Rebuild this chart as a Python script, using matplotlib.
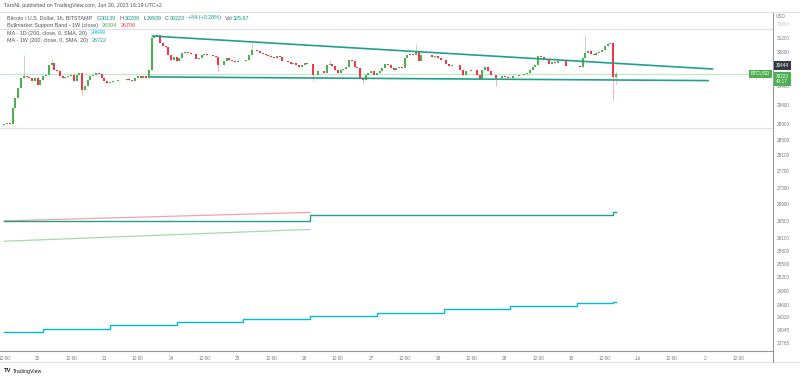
import matplotlib.pyplot as plt
from matplotlib.ticker import FixedLocator, NullLocator
from matplotlib.lines import Line2D

plt.rcParams['font.family'] = ['Liberation Sans', 'DejaVu Sans']

# BTCUSD 1h (BITSTAMP), bars from Jun 21 12:00 to Jun 30 16:00 (UTC+2), x = hours since first bar
first_open = 28880
closes = [
    28906, 28931, 28906, 29318, 29578, 29842, 30109, 30163, 30136, 30109,
    30028, 30109, 29922, 30055, 30163, 30190, 30460, 30514, 30325, 30298,
    30163, 30109, 30136, 30163, 30190, 30028, 30190, 30244, 29789, 29895,
    30055, 30163, 30190, 30244, 30217, 30109, 30028, 29975, 30002, 30028,
    30020, 30055, 30050, 30060, 30082, 30055, 30028, 30109, 30163, 30109,
    30163, 30109, 30325, 31200, 31256, 31284, 31061, 30978, 30960, 30732,
    30596, 30677, 30569, 30650, 30786, 30814, 30786, 30759, 30750, 30623,
    30650, 30732, 30759, 30732, 30740, 30705, 30677, 30460, 30455, 30569,
    30650, 30596, 30569, 30542, 30569, 30560, 30580, 30596, 30732, 30869,
    30875, 30841, 30786, 30759, 30732, 30705, 30677, 30650, 30705, 30677,
    30569, 30580, 30542, 30487, 30514, 30460, 30406, 30460, 30514, 30487,
    30480, 30190, 30180, 30298, 30290, 30244, 30460, 30487, 30433, 30325,
    30244, 30325, 30352, 30406, 30596, 30569, 30406, 30379, 30109, 30055,
    30190, 30244, 30298, 30190, 30244, 30298, 30379, 30487, 30460, 30379,
    30325, 30379, 30406, 30379, 30650, 30732, 30759, 30732, 30814, 30569,
    30732, 30740, 30725, 30732, 30677, 30705, 30650, 30596, 30600, 30487,
    30433, 30460, 30455, 30465, 30325, 30190, 30298, 30290, 30325, 30320,
    30190, 30082, 30325, 30406, 30298, 30190, 30180, 30109, 30100, 30163,
    30136, 30109, 30105, 30163, 30160, 30190, 30185, 30217, 30244, 30325,
    30406, 30460, 30705, 30677, 30623, 30596, 30487, 30542, 30514, 30569,
    30575, 30596, 30433, 30430, 30440, 30433, 30440, 30406, 30650, 30786,
    30841, 30759, 30732, 30786, 30814, 30869, 30978, 31033, 31061, 30139,
    30223,
]
wick_high = {7: 30730, 17: 30600, 54: 31310, 89: 31060, 117: 30600,
             148: 31030, 209: 31280, 219: 31090, 220: 30288}
wick_low = {0: 28850, 28: 29660, 77: 30300, 111: 30030, 129: 29975,
            177: 29895, 219: 29530, 220: 29939}

# drawn trendlines (hour, price)
upper_line = [(53, 31256), (255, 30348)]
lower_line = [(52.4, 30136), (253.5, 30037)]

# indicators
ma1d_hours = [0, 14, 38, 62, 86, 110, 134, 158, 182, 206, 219, 220]
ma1d_vals = [24005, 24075, 24145, 24215, 24285, 24355, 24425, 24495, 24565, 24625, 24649, 24649]
ma1w_hours = [0, 110, 219, 220]
ma1w_vals = [26505, 26646, 26722, 26722]
band_hours = [0, 110]
band_sma = [26505, 26706]
band_ema = [26028, 26304]
range_lines = [31452, 28805]
last_price = 30223
marker_price = 30444

price_ticks = [31600, 31200, 30800, 29900, 29400, 28900, 28500, 28100, 27700, 27300,
               26900, 26500, 26100, 25800, 25500, 25200, 24900, 24600, 24320, 24045, 23765]
time_ticks = list(range(0, 265, 12))
time_labels = ['12:00', '22', '12:00', '23', '12:00', '24', '12:00', '25', '12:00', '26',
               '12:00', '27', '12:00', '28', '12:00', '29', '12:00', '30', '12:00', 'Jul',
               '12:00', '2', '12:00']

UP, DOWN = '#4caf50', '#f23645'
TEAL = '#22a08a'
CYAN = '#00bcd4'
GREY = '#787b86'

fig = plt.figure(figsize=(8, 3.78), dpi=100)
ax = fig.add_axes([0, 27 / 378, 773 / 800, 339 / 378])
ax.set_yscale('log')

hours = list(range(len(closes)))
opens = [first_open] + closes[:-1]
colors = [UP if c >= o else DOWN for o, c in zip(opens, closes)]
bottoms = [min(o, c) for o, c in zip(opens, closes)]
heights = [max(abs(c - o), 7) for o, c in zip(opens, closes)]
highs = [wick_high.get(i, max(o, c)) for i, (o, c) in enumerate(zip(opens, closes))]
lows = [wick_low.get(i, min(o, c)) for i, (o, c) in enumerate(zip(opens, closes))]

for p in range_lines:
    ax.axhline(p, color='#e0e3eb', lw=0.9, zorder=1)
ax.axhline(last_price, color='#c8e6c9', lw=0.9, zorder=1)

ax.vlines(hours, lows, highs, colors=colors, alpha=0.4, lw=0.7, zorder=2)
ax.bar(hours, heights, bottom=bottoms, width=0.72, color=colors, linewidth=0, zorder=3)

for seg in (upper_line, lower_line):
    ax.plot([seg[0][0], seg[1][0]], [seg[0][1], seg[1][1]], color=TEAL, lw=1.2,
            solid_capstyle='butt', zorder=4)

ax.plot(band_hours, band_sma, color='#f5a3a9', lw=0.9, zorder=2)
ax.plot(band_hours, band_ema, color='#a8d8aa', lw=0.9, zorder=2)
ax.step(ma1w_hours, ma1w_vals, where='post', color=TEAL, lw=1.0, zorder=3)
ax.step(ma1d_hours, ma1d_vals, where='post', color=CYAN, lw=1.0, zorder=3)

ax.set_xlim(-1.55, 276.5)
ax.set_ylim(23601, 31932)

ax.yaxis.tick_right()
ax.yaxis.set_major_locator(FixedLocator(price_ticks))
ax.yaxis.set_minor_locator(NullLocator())
ax.set_yticklabels([str(p) for p in price_ticks])
ax.tick_params(axis='y', length=0, pad=3, labelsize=3.4, labelcolor=GREY)
ax.get_yticklabels()[0].set_color('#c3c6ce')
ax.set_xticks(time_ticks)
ax.set_xticklabels(time_labels)
ax.tick_params(axis='x', length=0, pad=3.5, labelsize=3.4, labelcolor=GREY)

for s in ('top', 'left'):
    ax.spines[s].set_visible(False)
ax.spines['right'].set_color('#9598a1')
ax.spines['bottom'].set_color('#9598a1')
ax.spines['right'].set_linewidth(0.8)
ax.spines['bottom'].set_linewidth(0.8)

# frame lines of the snapshot
fig.add_artist(Line2D([0, 1], [1 - 12 / 378, 1 - 12 / 378], color='#e0e3eb', lw=0.8))
fig.add_artist(Line2D([0, 1], [1 - 362 / 378, 1 - 362 / 378], color='#e0e3eb', lw=0.8))
fig.add_artist(Line2D([773 / 800, 773 / 800], [1 - 362 / 378, 27 / 378], color='#9598a1', lw=0.8))

# header and legend
fig.text(4 / 800, 1 - 6 / 378, 'TaroNL published on TradingView.com, Jun 30, 2023 16:19 UTC+2',
         fontsize=3.8, color='#50535e', va='center')


def legend_row(y, parts):
    # parts: (text, colour, gap before it in points)
    prev = None
    for txt, col, gap in parts:
        if prev is None:
            prev = ax.annotate(txt, xy=(7 / 773, y), xycoords='axes fraction', fontsize=3.9,
                               color=col, va='center')
        else:
            prev = ax.annotate(txt, xy=(1, 0), xycoords=prev, xytext=(gap, 0),
                               textcoords='offset points', fontsize=3.9, color=col, va='bottom')


LG = '#50535e'
GV = '#089981'
legend_row(1 - 6 / 339, [('Bitcoin / U.S. Dollar, 1h, BITSTAMP', LG, 0), ('O', LG, 3.2),
                         ('30139', GV, 0.3), ('H', LG, 2.6), ('30288', GV, 0.3),
                         ('L', LG, 2.6), ('29939', GV, 0.3), ('C', LG, 2.6), ('30223', GV, 0.3),
                         ('+84 (+0.28%)', GV, 2.6), ('Vol', LG, 2.6), ('325.67', GV, 0.3)])
legend_row(1 - 13.5 / 339, [('Bullmarket Support Band - 1W (close)', LG, 0),
                            ('26304', '#4caf50', 2.6), ('26706', '#f23645', 2.6)])
legend_row(1 - 21 / 339, [('MA - 1D (200, close, 0, SMA, 20)', LG, 0), ('24649', CYAN, 2.6)])
legend_row(1 - 28.5 / 339, [('MA - 1W (200, close, 0, SMA, 20)', LG, 0), ('26722', TEAL, 2.6)])

# price labels on the scale
ytr = ax.get_yaxis_transform()
ax.text(1.0035, 31800, 'USD', transform=ytr, fontsize=3.4, color=GREY, va='center', clip_on=False)
ax.text(1.004, marker_price, str(marker_price), transform=ytr, fontsize=3.4, color='white',
        va='center', clip_on=False,
        bbox=dict(boxstyle='square,pad=0.35', fc='#363a45', ec='none'))
ax.text(1.004, last_price, f'{last_price}\n40:17', transform=ytr, fontsize=3.4, color='white',
        va='top', linespacing=1.15, clip_on=False,
        bbox=dict(boxstyle='square,pad=0.35', fc='#4caf50', ec='none'))
ax.text(0.9965, last_price, 'BTCUSD', transform=ytr, fontsize=3.4, color='white', ha='right',
        va='center', bbox=dict(boxstyle='square,pad=0.35', fc='#4caf50', ec='none'))

# footer logo
fig.text(4 / 800, 1 - 371 / 378, 'TV', fontsize=4.2, fontweight='bold', color='#131722',
         va='center')
fig.text(13 / 800, 1 - 371 / 378, 'TradingView', fontsize=3.8, color='#131722', va='center')

fig.savefig('out.png', dpi=100, facecolor='white')
